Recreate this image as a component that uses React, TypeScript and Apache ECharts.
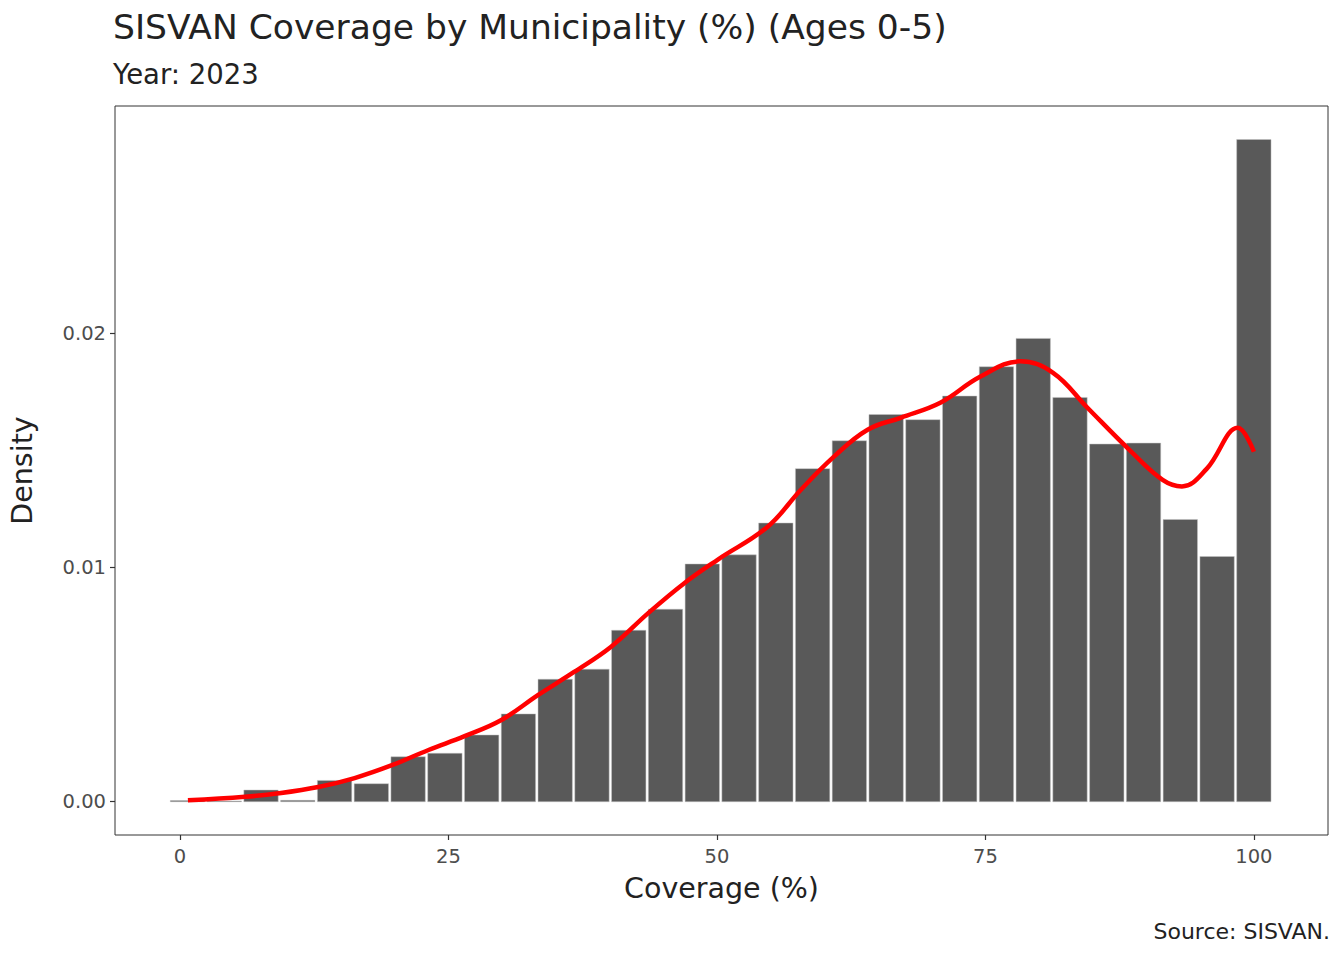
import React, { useEffect, useRef } from "react";
import * as echarts from "echarts";

// Histogram: 30 bins, first centred on the minimum, last on 100
const binCenterFirst = 0.7;
const binWidth = 3.424;
const densityValues = [
  0.00005, 0, 0.0005, 0.00006, 0.00091, 0.00077, 0.00192, 0.00207, 0.00285, 0.00375,
  0.00523, 0.00566, 0.00732, 0.00822, 0.01015, 0.01054, 0.0119, 0.01422, 0.01541, 0.01653,
  0.01631, 0.01732, 0.01857, 0.01978, 0.01726, 0.01527, 0.01531, 0.01205, 0.01047, 0.02827,
];

// Kernel density curve (x, density)
const curveX = [
  0.74, 6.04, 9.2, 13.0, 16.26, 19.8, 23.14, 26.5, 29.93, 33.36, 36.7, 40.15, 43.6, 46.93,
  50.09, 54.7, 57.8, 60.87, 64.03, 67.1, 70.8, 74.5, 78.25, 81.3, 84.5, 88.5, 91.5,
  93.3, 95.6, 98.5, 100.0,
];
const curveY = [
  0.00006, 0.00021, 0.00036, 0.00064, 0.00101, 0.00157, 0.00221, 0.0028, 0.00349, 0.00456,
  0.00554, 0.00662, 0.00805, 0.00932, 0.01034, 0.01173, 0.01331, 0.01472, 0.01588,
  0.01639, 0.01703, 0.01814, 0.0188, 0.01831, 0.01682, 0.01498, 0.01374, 0.01346, 0.01421,
  0.01596, 0.01494,
];

const xTicks = [0, 25, 50, 75, 100];
const yTicks = [0, 0.01, 0.02];

const FONT = "'DejaVu Sans', 'Noto Sans', sans-serif";
const DARK = "#222222";

export default function App() {
  const ref = useRef<HTMLDivElement>(null);
  useEffect(() => {
    document.body.style.margin = "0";
    if (!ref.current) return;
    const chart = echarts.init(ref.current, undefined, { renderer: "svg" });
    const bins = densityValues.map((v, i) => {
      const c = binCenterFirst + i * binWidth;
      return [c - binWidth / 2, c + binWidth / 2, v];
    });
    const curve = curveX.map((x, i) => [x, curveY[i]]);
    chart.setOption({
      animation: false,
      backgroundColor: "#ffffff",
      textStyle: { fontFamily: FONT },
      grid: {
        left: 113,
        top: 106,
        width: 1215,
        height: 729,
        show: true,
        borderColor: "#333333",
        borderWidth: 1,
        backgroundColor: "transparent",
      },
      xAxis: {
        type: "value",
        min: -6.05,
        max: 106.9,
        axisLine: { show: false, onZero: false },
        splitLine: { show: false },
        axisTick: {
          show: true,
          length: 5,
          lineStyle: { color: "#333333", width: 1.2 },
          customValues: xTicks,
        },
        axisLabel: {
          customValues: xTicks,
          color: "#4d4d4d",
          fontSize: 19.5,
          margin: 11,
          fontFamily: FONT,
        },
        name: "Coverage (%)",
        nameLocation: "middle",
        nameGap: 39,
        nameTextStyle: { fontSize: 28.5, color: DARK, fontFamily: FONT },
      },
      yAxis: {
        type: "value",
        min: -0.00142,
        max: 0.0297,
        axisLine: { show: false, onZero: false },
        splitLine: { show: false },
        axisTick: {
          show: true,
          length: 5,
          lineStyle: { color: "#333333", width: 1.2 },
          customValues: yTicks,
        },
        axisLabel: {
          customValues: yTicks,
          color: "#4d4d4d",
          fontSize: 19.5,
          margin: 9,
          fontFamily: FONT,
          formatter: (v: number) => v.toFixed(2),
        },
        name: "Density",
        nameLocation: "middle",
        nameGap: 78,
        nameRotate: 90,
        nameTextStyle: { fontSize: 28.5, color: DARK, fontFamily: FONT },
      },
      graphic: [
        {
          type: "text",
          x: 113,
          y: 27,
          style: {
            text: "SISVAN Coverage by Municipality (%) (Ages 0-5)",
            font: `34.5px ${FONT}`,
            fill: DARK,
            textAlign: "left",
            textVerticalAlign: "middle",
          },
        },
        {
          type: "text",
          x: 113,
          y: 74,
          style: {
            text: "Year: 2023",
            font: `27.5px ${FONT}`,
            fill: DARK,
            textAlign: "left",
            textVerticalAlign: "middle",
          },
        },
        {
          type: "text",
          x: 1330,
          y: 931,
          style: {
            text: "Source: SISVAN.",
            font: `22px ${FONT}`,
            fill: DARK,
            textAlign: "right",
            textVerticalAlign: "middle",
          },
        },
      ],
      series: [
        {
          type: "custom",
          data: bins,
          clip: true,
          renderItem: (params: any, api: any) => {
            const s = api.value(0);
            const e = api.value(1);
            const v = api.value(2);
            const p0 = api.coord([s, v]);
            const p1 = api.coord([e, 0]);
            const h = Math.max(p1[1] - p0[1], 0.8);
            return {
              type: "rect",
              shape: { x: p0[0] + 1.2, y: p1[1] - h, width: p1[0] - p0[0] - 2.4, height: h },
              style: { fill: "#595959", stroke: "#c4c4c4", lineWidth: 0.5 },
            };
          },
          encode: { x: [0, 1], y: 2 },
          z: 1,
        },
        {
          type: "line",
          data: curve,
          smooth: 0.4,
          showSymbol: false,
          symbol: "none",
          lineStyle: { color: "#ff0000", width: 4.5 },
          z: 3,
        },
      ],
    });
    return () => chart.dispose();
  }, []);
  return <div ref={ref} style={{ width: 1344, height: 960 }} />;
}
